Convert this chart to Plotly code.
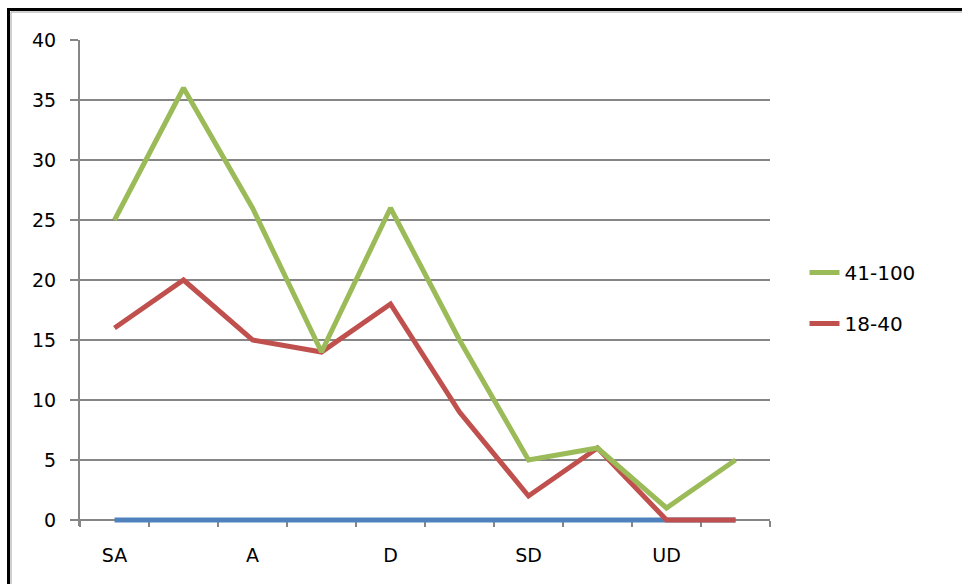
import plotly.graph_objects as go

# Response categories along the x axis (label shown on every other point)
x_labels = ["SA", "", "A", "", "D", "", "SD", "", "UD", ""]
x_pos = list(range(len(x_labels)))

# Counts per age group
age_41_100 = [25, 36, 26, 14, 26, 15, 5, 6, 1, 5]
age_18_40 = [16, 20, 15, 14, 18, 9, 2, 6, 0, 0]
baseline = [0, 0, 0, 0, 0, 0, 0, 0, 0, 0]

y_ticks = [0, 5, 10, 15, 20, 25, 30, 35, 40]

GREEN = "#9BBB59"
RED = "#C0504D"
BLUE = "#4F81BD"
GRID = "#868686"
FONT = "DejaVu Sans"

# a little room under zero so lines lying on the baseline are not clipped
Y_MIN, Y_MAX = -0.5, 40
PX_PER_UNIT = 12
plot_h = (Y_MAX - Y_MIN) * PX_PER_UNIT
top = 40
bottom = 584 - top - plot_h

fig = go.Figure()

fig.add_trace(go.Scatter(
    x=x_pos, y=baseline, mode="lines", name="blank",
    line=dict(color=BLUE, width=5), showlegend=False,
))
fig.add_trace(go.Scatter(
    x=x_pos, y=age_18_40, mode="lines", name="18-40",
    line=dict(color=RED, width=5), legendgroup="b", legendrank=2,
))
fig.add_trace(go.Scatter(
    x=x_pos, y=age_41_100, mode="lines", name="41-100",
    line=dict(color=GREEN, width=5), legendgroup="a", legendrank=1,
))

zero_frac = (0 - Y_MIN) / (Y_MAX - Y_MIN)

fig.update_layout(
    width=962, height=584,
    margin=dict(l=80, r=192, t=top, b=bottom),
    paper_bgcolor="white", plot_bgcolor="white",
    font=dict(family=FONT, size=19, color="black"),
    legend=dict(
        x=1.05, y=zero_frac + (1 - zero_frac) * 0.4625,
        xanchor="left", yanchor="middle",
        traceorder="grouped", tracegroupgap=22,
        font=dict(size=20), bgcolor="rgba(0,0,0,0)",
    ),
    xaxis=dict(
        range=[-0.5, 9.5],
        anchor="free", position=zero_frac,
        tickmode="array",
        tickvals=[p for p, t in zip(x_pos, x_labels) if t],
        ticktext=[t for t in x_labels if t],
        ticks="", showgrid=False, zeroline=False,
        showline=True, linecolor=GRID, linewidth=2,
        ticklabelstandoff=18, layer="below traces",
        minor=dict(tick0=-0.5, dtick=1, ticks="outside", ticklen=6,
                   tickwidth=2, tickcolor=GRID, showgrid=False),
        fixedrange=True,
    ),
    yaxis=dict(
        range=[Y_MIN, Y_MAX],
        tickmode="array", tickvals=y_ticks,
        ticks="outside", ticklen=8, tickwidth=2, tickcolor=GRID,
        showgrid=True, gridcolor=GRID, gridwidth=2,
        zeroline=False,
        showline=True, linecolor=GRID, linewidth=2,
        ticklabelstandoff=10, layer="below traces",
        fixedrange=True,
    ),
    shapes=[
        # chart frame (outer dark border with a thin gray inner line)
        dict(type="rect", xref="paper", yref="paper",
             x0=-71.5 / 690, x1=1.5, y0=-1.0, y1=1 + 30.5 / plot_h,
             line=dict(color="black", width=3), layer="above"),
        dict(type="rect", xref="paper", yref="paper",
             x0=-69 / 690, x1=1.5, y0=-1.0, y1=1 + 28 / plot_h,
             line=dict(color="#A0A0A0", width=1), layer="above"),
    ],
)

fig.write_html("out.html")
